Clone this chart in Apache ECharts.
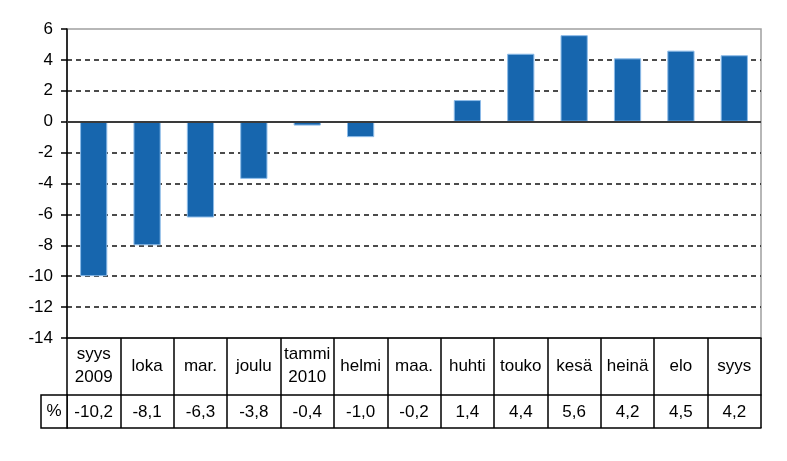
<!DOCTYPE html>
<html>
<head>
<meta charset="utf-8">
<script src="https://cdn.jsdelivr.net/npm/echarts@6/dist/echarts.min.js"></script>
<style>html,body{margin:0;padding:0;background:#fff}#c{width:787px;height:461px}</style>
</head>
<body>
<div id="c"></div>
<script>
// Category labels (table row 1)
const categories = ['syys\n2009', 'loka', 'mar.', 'joulu', 'tammi\n2010', 'helmi', 'maa.', 'huhti', 'touko', 'kesä', 'heinä', 'elo', 'syys'];
// Bar heights
const barValues = [-10.0, -8.0, -6.2, -3.7, -0.25, -1.0, 0, 1.4, 4.4, 5.6, 4.1, 4.6, 4.3];
// Values printed in the table (row 2)
const tableValues = [-10.2, -8.1, -6.3, -3.8, -0.4, -1.0, -0.2, 1.4, 4.4, 5.6, 4.2, 4.5, 4.2];
const tableRowLabel = '%';
// Y axis
const yMin = -14, yMax = 6, yStep = 2;

const FONT = 'Liberation Sans, Arial, sans-serif';
const tableStrings = tableValues.map(v => v.toFixed(1).replace('.', ','));

const chart = echarts.init(document.getElementById('c'), null, {renderer: 'canvas'});

const gridLeft = 67, gridRight = 26, gridTop = 29, gridBottom = 123;
const row1H = 57, row2H = 33;

// split line colors: hide at min (-14), 0 and max (6)
const splitColors = [];
for (let v = yMin; v <= yMax; v += yStep) {
  splitColors.push((v === yMin || v === 0 || v === yMax) ? 'rgba(0,0,0,0)' : '#111');
}

const option = {
  backgroundColor: '#fff',
  animation: false,
  textStyle: {fontFamily: FONT},
  grid: {
    left: gridLeft, right: gridRight, top: gridTop, bottom: gridBottom,
    show: true, backgroundColor: '#fff', borderColor: '#a0a0a0', borderWidth: 1.5,
    outerBoundsMode: 'none'
  },
  xAxis: [
    {
      type: 'category', data: categories, position: 'bottom',
      axisLine: {show: true, onZero: false, lineStyle: {color: '#000', width: 1.5}},
      axisTick: {show: true, interval: 0, length: row1H + row2H, lineStyle: {color: '#000', width: 1.5}},
      axisLabel: {interval: 0, color: '#000', fontSize: 17, fontFamily: FONT, margin: Math.round(row1H / 2) - 1, verticalAlign: 'middle', lineHeight: 23},
      splitLine: {show: false}
    },
    {
      type: 'category', data: tableStrings, position: 'bottom', offset: row1H,
      axisLine: {show: true, onZero: false, lineStyle: {color: '#000', width: 1.5}},
      axisTick: {show: false},
      axisLabel: {interval: 0, color: '#000', fontSize: 17, fontFamily: FONT, margin: Math.round(row2H / 2), verticalAlign: 'middle'},
      splitLine: {show: false}
    },
    {
      type: 'category', data: categories, position: 'bottom', offset: row1H + row2H,
      axisLine: {show: true, onZero: false, lineStyle: {color: '#000', width: 1.5}},
      axisTick: {show: false},
      axisLabel: {show: false},
      splitLine: {show: false}
    }
  ],
  yAxis: {
    type: 'value', min: yMin, max: yMax, interval: yStep,
    axisLine: {show: true, lineStyle: {color: '#000', width: 1.5}},
    axisTick: {show: true, length: 6, lineStyle: {color: '#000', width: 1.5}},
    axisLabel: {color: '#000', fontSize: 17, fontFamily: FONT, margin: 14},
    splitLine: {show: true, lineStyle: {color: splitColors, type: [5, 4], width: 1.5}}
  },
  series: [{
    type: 'bar', data: barValues, xAxisIndex: 0, barWidth: '51%',
    itemStyle: {color: '#1766ae', borderColor: '#8cbbe8', borderWidth: 1},
    markLine: {
      silent: true, symbol: 'none', label: {show: false},
      lineStyle: {color: '#3a3a3a', type: 'solid', width: 2},
      data: [{yAxis: 0}]
    }
  }],
  graphic: []
};

chart.setOption(option);

// "%" row-header cell to the left of the table's second row
const x0 = chart.convertToPixel({xAxisIndex: 0}, 0) - (chart.convertToPixel({xAxisIndex: 0}, 1) - chart.convertToPixel({xAxisIndex: 0}, 0)) / 2;
const yBase = chart.convertToPixel({yAxisIndex: 0}, yMin);
const cellW = 26;
chart.setOption({
  graphic: [
    {type: 'rect', shape: {x: x0 - cellW, y: yBase + row1H, width: cellW, height: row2H},
     style: {fill: '#fff', stroke: '#000', lineWidth: 1.5}, z: 10},
    {type: 'text', x: x0 - cellW / 2, y: yBase + row1H + row2H / 2,
     style: {text: tableRowLabel, fill: '#000', font: '17px ' + FONT, align: 'center', verticalAlign: 'middle'}, z: 11}
  ]
});
</script>
</body>
</html>
